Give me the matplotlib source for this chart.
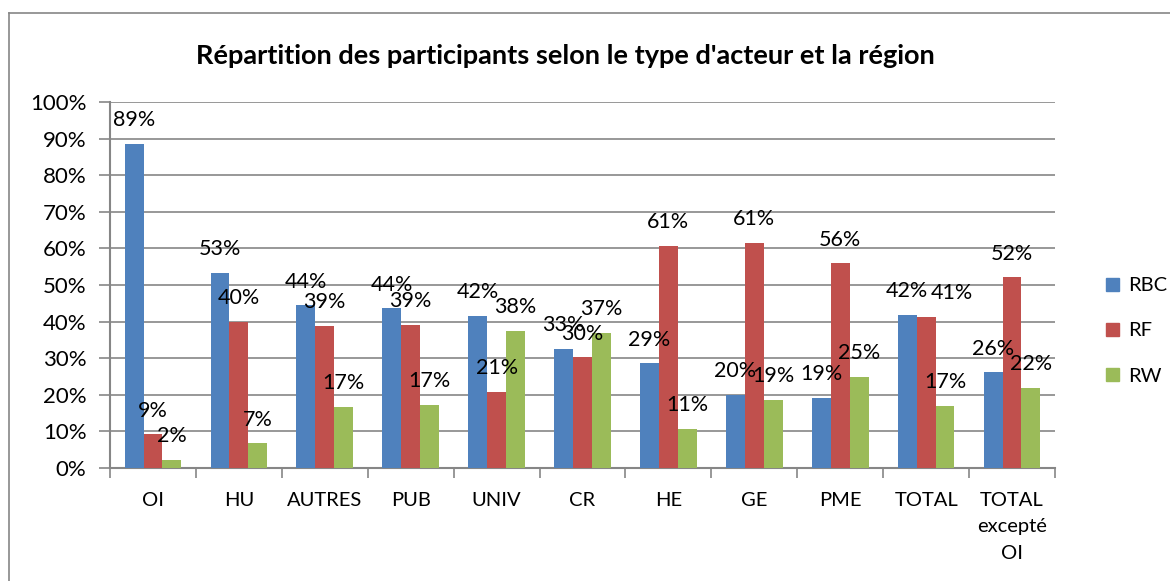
import numpy as np
import matplotlib.pyplot as plt
from matplotlib.lines import Line2D

categories = ['OI', 'HU', 'AUTRES', 'PUB', 'UNIV', 'CR', 'HE', 'GE', 'PME', 'TOTAL',
              'TOTAL\nexcepté\nOI']
rbc = [88.6, 53.3, 44.4, 43.6, 41.6, 32.6, 28.6, 20.0, 19.1, 41.8, 26.1]
rf = [9.2, 40.0, 38.9, 39.1, 20.8, 30.2, 60.7, 61.4, 55.9, 41.3, 52.1]
rw = [2.3, 6.7, 16.7, 17.3, 37.5, 37.0, 10.7, 18.7, 25.0, 16.9, 21.8]
series = ['RBC', 'RF', 'RW']
colors = ['#4F81BD', '#C0504D', '#9BBB59']

plt.rcParams['font.family'] = ['Lato', 'DejaVu Sans']
grey = '#868686'

fig = plt.figure(figsize=(11.7, 5.81), dpi=100)
ax = fig.add_axes([110 / 1170, 1 - 468 / 581, 945 / 1170, 366 / 581])

x = np.arange(len(categories))
w = 0.22
for i, (vals, name, c) in enumerate(zip([rbc, rf, rw], series, colors)):
    pos = x + (i - 1) * w
    ax.bar(pos, vals, w, color=c, label=name, zorder=3)
    for j, (p, v) in enumerate(zip(pos, vals)):
        dx = 0
        # the excel label for TOTAL / RF was dragged aside
        if name == 'RF' and categories[j] == 'TOTAL':
            dx = 0.3
        ax.text(p + dx, v + 6.5, '%d%%' % round(v), ha='center', va='center',
                fontsize=15.5, zorder=4)

ax.set_xlim(-0.5, len(categories) - 0.5)
ax.set_ylim(0, 100)
ax.set_yticks(np.arange(0, 101, 10))
ax.set_yticklabels(['%d%%' % t for t in range(0, 101, 10)], fontsize=16)
ax.yaxis.grid(True, color=grey, linewidth=1.2, zorder=0)
ax.tick_params(axis='y', length=8, color=grey, width=1.2, pad=9)

# category labels with separator ticks
ax.set_xticks(np.arange(len(categories) + 1) - 0.5)
ax.set_xticklabels([])
ax.set_xticks(x, minor=True)
ax.set_xticklabels(categories, minor=True, fontsize=14.5, va='top', linespacing=1.7)
ax.tick_params(axis='x', which='major', length=7, color=grey, width=1.2)
ax.tick_params(axis='x', which='minor', length=0, pad=17)

for s in ['top', 'right']:
    ax.spines[s].set_visible(False)
for s in ['left', 'bottom']:
    ax.spines[s].set_color(grey)
    ax.spines[s].set_linewidth(1.5)

handles = [plt.Rectangle((0, 0), 1, 1, color=c) for c in colors]
fig.legend(handles, series, loc='center left', bbox_to_anchor=(1088 / 1170, 1 - 331 / 581),
           frameon=False, fontsize=14.5, handlelength=0.65, handleheight=0.65,
           labelspacing=1.4, handletextpad=0.45)

fig.text(565 / 1170, 1 - 56 / 581, "Répartition des participants selon le type d'acteur et la région",
         ha='center', va='center', fontsize=19.5, fontweight='bold')

# chart frame (top and left edges visible)
fig.add_artist(Line2D([9 / 1170, 9 / 1170], [0, 1 - 13 / 581], color=grey, lw=1.2))
fig.add_artist(Line2D([9 / 1170, 1], [1 - 13 / 581, 1 - 13 / 581], color=grey, lw=1.2))

fig.savefig('out.png', dpi=100)
